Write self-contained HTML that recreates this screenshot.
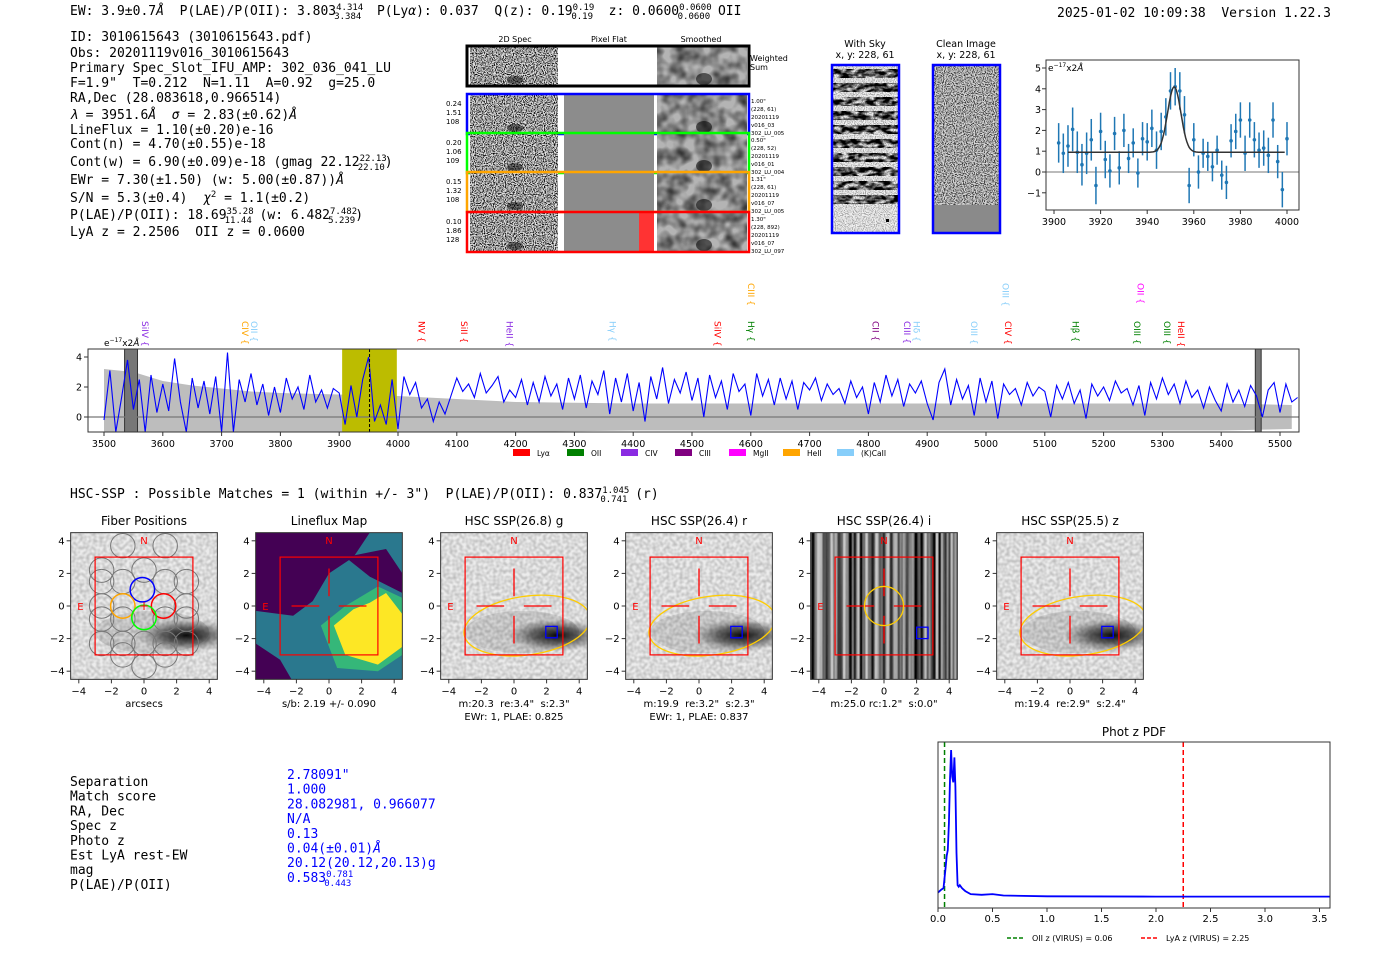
<!DOCTYPE html>
<html><head><meta charset="utf-8"><style>
html,body{margin:0;padding:0;background:#fff;width:1400px;height:953px;overflow:hidden}
svg{display:block}
.m{font-family:"DejaVu Sans Mono","Liberation Mono",monospace;font-size:13px}
.s{font-family:"DejaVu Sans","Liberation Sans",sans-serif}
</style></head><body>
<svg id="fig" width="1400" height="953" viewBox="0 0 1400 953" xmlns="http://www.w3.org/2000/svg">
<defs>
<filter id="nHi" x="0" y="0" width="1" height="1"><feTurbulence type="fractalNoise" baseFrequency="0.9" numOctaves="1" seed="3"/><feColorMatrix values="0 0 0 0 0 0 0 0 0 0 0 0 0 0 0 4 0 0 0 -1.7"/></filter>
<filter id="nSm" x="0" y="0" width="1" height="1"><feTurbulence type="fractalNoise" baseFrequency="0.08" numOctaves="2" seed="7"/><feColorMatrix values="0 0 0 0 0 0 0 0 0 0 0 0 0 0 0 1.4 0 0 0 -0.45"/></filter>
<filter id="nLo" x="0" y="0" width="1" height="1"><feTurbulence type="fractalNoise" baseFrequency="0.3" numOctaves="1" seed="5"/><feColorMatrix values="0 0 0 0 0 0 0 0 0 0 0 0 0 0 0 0.4 0 0 0 -0.12"/></filter>
<filter id="nStr" x="0" y="0" width="1" height="1"><feTurbulence type="fractalNoise" baseFrequency="0.35 0.001" numOctaves="1" seed="2"/><feColorMatrix values="0 0 0 0 0 0 0 0 0 0 0 0 0 0 0 2.4 0 0 0 -0.7"/></filter>
<filter id="nSky" x="0" y="0" width="1" height="1"><feTurbulence type="fractalNoise" baseFrequency="0.12 0.25" numOctaves="2" seed="9"/><feColorMatrix values="0 0 0 0 0 0 0 0 0 0 0 0 0 0 0 3 0 0 0 -0.9"/></filter>
<radialGradient id="blob"><stop offset="0" stop-color="#000" stop-opacity="0.95"/><stop offset="0.5" stop-color="#222" stop-opacity="0.6"/><stop offset="1" stop-color="#555" stop-opacity="0"/></radialGradient>
<clipPath id="cMain"><rect x="88" y="349" width="1211" height="83"/></clipPath>
<clipPath id="cFit"><rect x="1046" y="60" width="253" height="150"/></clipPath>
</defs>
<g id="root"></g>
</svg>
<script>
// ---- main spectrum data ----
const specWaveStart = 3500;
const specWaveStep = 10;
const specFlux = [-0.2,3.1,-1,1.3,3.8,0.5,2.5,-1,2.8,0.3,
2.2,0.4,3.9,1.0,-1,2.6,0.6,2.4,0.2,2.7,
-1,4.3,-1,2.5,1.0,2.9,0.8,2.2,0.1,2.0,
0.3,2.6,1.2,2.0,0.5,2.8,1.0,1.8,0.6,1.9,
1.6,-0.5,2.1,0.0,2.5,4.0,-0.3,0.8,-0.5,2.5,
-0.8,2.7,1.5,2.3,0.6,1.2,-0.3,1.0,0.2,1.4,
2.6,1.7,2.2,1.3,2.9,1.6,2.1,2.7,1.0,1.8,
1.3,2.5,0.8,2.3,1.0,2.7,1.4,2.2,0.5,2.6,
1.2,2.8,0.6,2.4,1.5,3.1,0.2,2.6,1.0,2.9,
0.4,2.3,-0.3,2.7,1.2,3.3,0.9,2.5,1.6,3.0,
1.1,2.6,0.0,2.8,1.3,2.4,0.5,2.9,1.7,2.2,
0.1,2.9,1.4,2.5,0.8,2.6,1.2,2.4,0.5,2.3,
1.8,2.6,1.1,2.2,1.5,1.9,0.9,2.4,1.3,2.0,
0.2,2.3,1.0,2.8,1.4,2.5,0.7,2.2,1.6,2.4,
0.9,-0.2,2.3,3.2,0.8,2.5,1.2,2.1,0.1,2.6,
1.0,2.4,-0.1,2.2,1.5,1.9,0.8,2.3,1.4,2.0,
1.7,0.0,2.1,1.2,2.3,0.9,1.8,-0.1,2.2,1.4,
2.0,1.1,2.4,1.6,1.9,0.8,2.1,0.1,2.3,1.2,
2.6,1.5,2.2,0.9,2.4,1.3,1.8,0.6,2.0,1.1,
0.4,2.2,1.0,1.8,0.7,2.1,1.4,0.0,1.8,2.3,
0.3,2.2,1.0,1.3];
const errWave = [3500,3550,3600,3650,3700,3750,3800,3900,4000,4100,4200,4400,4600,5000,5400,5520];
const errUpper = [3.2,3.0,2.4,2.1,1.9,1.7,1.6,1.5,1.4,1.2,1.0,0.9,0.9,0.9,0.9,0.8];
const mainXTicks = [3500,3600,3700,3800,3900,4000,4100,4200,4300,4400,4500,4600,4700,4800,4900,5000,5100,5200,5300,5400,5500];
const mainYTicks = [0,2,4];
const lineNames = ["SiIV","CIV","OII","NV","SiII","HeII","Hγ","SiIV","Hγ","CIII","CII","CIII","Hδ","OIII","CIV","OIII","Hβ","OIII","OIII","HeII","OII"];
const lineWaves = [3570,3740,3755,4040,4112,4190,4365,4543,4600,4600,4812,4866,4882,4980,5037,5033,5152,5257,5308,5332,5263];
const lineColors = ["#8a2be2","#ffa500","#87cefa","#ff0000","#ff0000","#8a2be2","#87cefa","#ff0000","#008000","#ffa500","#800080","#8a2be2","#87cefa","#87cefa","#ff0000","#87cefa","#008000","#008000","#008000","#ff0000","#ff00ff"];
const lineRow = [0,0,0,0,0,0,0,0,0,1,0,0,0,0,0,1,0,0,0,0,1];
// ---- fit panel data ----
const fitWave = [3902,3904,3906,3908,3910,3912,3914,3916,3918,3920,3922,3924,3926,3928,3930,3932,3934,3936,3938,3940,3942,3944,3946,3948,3950,3952,3954,3956,3958,3960,3962,3964,3966,3968,3970,3972,3974,3976,3978,3980,3982,3984,3986,3988,3990,3992,3994,3996,3998,4000];
const fitFlux = [1.4,0.9,1.25,2.05,0.95,0.35,0.9,1.55,-0.65,1.95,0.6,0.05,1.85,0.2,2.0,0.65,1.4,-0.05,1.6,1.45,2.1,1.05,1.95,2.65,3.9,4.1,3.9,2.75,-0.65,1.55,0.0,0.9,0.75,0.25,1.05,-0.15,-0.5,1.5,1.95,2.5,0.9,2.5,1.55,1.05,1.15,0.8,2.5,0.5,-0.85,1.6];
const fitErr = [0.95,0.95,1.0,1.05,1.0,1.0,1.0,1.0,0.9,0.9,0.9,0.8,0.8,0.8,0.8,0.7,0.7,0.7,0.8,0.9,0.9,0.9,0.9,0.9,0.9,0.9,0.9,0.9,0.85,0.8,0.8,0.7,0.7,0.7,0.7,0.7,0.8,0.8,0.85,0.85,0.85,0.85,0.85,0.85,0.85,0.85,0.85,0.8,0.85,0.8];
const fitModel = {cont:0.95, amp:3.15, mu:3951.6, sigma:2.83};
const fitXTicks = [3900,3920,3940,3960,3980,4000];
const fitYTicks = [-1,0,1,2,3,4,5];
// ---- phot z PDF ----
const pdfZ = [0,0.03,0.05,0.07,0.08,0.09,0.1,0.11,0.12,0.13,0.14,0.15,0.16,0.17,0.18,0.19,0.2,0.22,0.25,0.3,0.4,0.5,0.6,1.0,2.0,3.6];
const pdfP = [0.03,0.05,0.06,0.2,0.28,0.32,0.5,0.8,1.0,0.82,0.78,0.95,0.75,0.3,0.08,0.07,0.08,0.06,0.04,0.02,0.015,0.02,0.01,0.005,0.003,0.003];
const pdfXTicks = [0.0,0.5,1.0,1.5,2.0,2.5,3.0,3.5];
const pdfOIIz = 0.06, pdfLyaz = 2.25;

const NS="http://www.w3.org/2000/svg";
const root=document.getElementById('root');
function mk(tag,at,par){const e=document.createElementNS(NS,tag);for(const k in at)e.setAttribute(k,at[k]);(par||root).appendChild(e);return e;}
function txt(x,y,s,cls,extra,par){const e=mk('text',Object.assign({x:x,y:y,class:cls||'s'},extra||{}),par);e.textContent=s;return e;}
function nm(e,n,i){return e;}

// ---------- header ----------
let g=mk('g',{});
nm(g,'header-text');
let t=mk('text',{x:70,y:15,class:'m'},g);
t.innerHTML='EW: 3.9±0.7<tspan font-style="italic">Å</tspan>  P(LAE)/P(OII): 3.803<tspan font-size="9" dy="-5">4.314</tspan><tspan font-size="9" dx="-29" dy="9">3.384</tspan><tspan dy="-4">  P(Ly<tspan font-style="italic">α</tspan>): 0.037  Q(z): 0.19</tspan><tspan font-size="9" dy="-5">0.19</tspan><tspan font-size="9" dx="-23" dy="9">0.19</tspan><tspan dy="-4">  z: 0.0600</tspan><tspan font-size="9" dy="-5">0.0600</tspan><tspan font-size="9" dx="-34" dy="9">0.0600</tspan><tspan dy="-4"> OII</tspan>';
t.style.whiteSpace='pre';
t=txt(1057,17,'2025-01-02 10:09:38  Version 1.22.3','m',{},g);t.style.whiteSpace='pre';

// ---------- info text ----------
g=mk('g',{});nm(g,'detection-info');
const info=[
 [41,'ID: 3010615643 (3010615643.pdf)'],
 [57,'Obs: 20201119v016_3010615643'],
 [72,'Primary Spec_Slot_IFU_AMP: 302_036_041_LU'],
 [87,'F=1.9"  T=0.212  N=1.11  A=0.92  g=25.0'],
 [102,'RA,Dec (28.083618,0.966514)'],
 [119,'<tspan font-style="italic">λ</tspan> = 3951.6<tspan font-style="italic">Å</tspan>  <tspan font-style="italic">σ</tspan> = 2.83(±0.62)<tspan font-style="italic">Å</tspan>'],
 [134,'LineFlux = 1.10(±0.20)e-16'],
 [148,'Cont(n) = 4.70(±0.55)e-18'],
 [166,'Cont(w) = 6.90(±0.09)e-18 (gmag 22.12<tspan font-size="9" dy="-5">22.13</tspan><tspan font-size="9" dx="-29" dy="9">22.10</tspan><tspan dy="-4">)</tspan>'],
 [184,'EWr = 7.30(±1.50) (w: 5.00(±0.87))<tspan font-style="italic">Å</tspan>'],
 [202,'S/N = 5.3(±0.4)  <tspan font-style="italic">χ</tspan><tspan font-size="9" dy="-5">2</tspan><tspan dy="5"> = 1.1(±0.2)</tspan>'],
 [219,'P(LAE)/P(OII): 18.69<tspan font-size="9" dy="-5">35.28</tspan><tspan font-size="9" dx="-29" dy="9">11.44</tspan><tspan dy="-4"> (w: 6.482</tspan><tspan font-size="9" dy="-5">7.482</tspan><tspan font-size="9" dx="-29" dy="9">5.239</tspan><tspan dy="-4">)</tspan>'],
 [236,'LyA z = 2.2506  OII z = 0.0600']];
info.forEach(r=>{const e=mk('text',{x:70,y:r[0],class:'m'},g);e.style.whiteSpace='pre';e.innerHTML=r[1];});

// ---------- 2D spectra ----------
g=mk('g',{});nm(g,'spectra-cutouts');
txt(515,42,'2D Spec','s',{'font-size':8,'text-anchor':'middle'},g);
txt(609,42,'Pixel Flat','s',{'font-size':8,'text-anchor':'middle'},g);
txt(701,42,'Smoothed','s',{'font-size':8,'text-anchor':'middle'},g);
const rows=[[47,38,'#000',null,'Weighted','Sum'],[95,38,'#0000ff',['0.24','1.51','108'],['1.00"','(228, 61)','20201119','v016_03','302_LU_005']],[134,38,'#00ff00',['0.20','1.06','109'],['0.50"','(228, 52)','20201119','v016_01','302_LU_004']],[173,38,'#ffa500',['0.15','1.32','108'],['1.31"','(228, 61)','20201119','v016_07','302_LU_005']],[213,38,'#ff0000',['0.10','1.86','128'],['1.30"','(228, 892)','20201119','v016_07','302_LU_097']]];
rows.forEach((r,i)=>{
 const y=r[0],h=r[1];
 mk('rect',{x:470,y:y,width:88,height:h,fill:'#e0e0e0'},g);
 mk('rect',{x:470,y:y,width:88,height:h,filter:'url(#nHi)'},g);
 mk('ellipse',{cx:515,cy:y+h-5,rx:8,ry:4,fill:'#000',opacity:0.5},g);
 if(i>0){mk('rect',{x:564,y:y,width:90,height:h,fill:'#8c8c8c'},g);}
 if(i==4){mk('rect',{x:639,y:y,width:15,height:h,fill:'#ff3333'},g);}
 mk('rect',{x:657,y:y,width:90,height:h,fill:'#b4b4b4'},g);
 mk('rect',{x:657,y:y,width:90,height:h,filter:'url(#nSm)'},g);
 mk('ellipse',{cx:704,cy:y+h-6,rx:8,ry:6,fill:'#000',opacity:0.55},g);
 const b=mk('rect',{x:467,y:y-1,width:282,height:h+2,fill:'none',stroke:r[2],'stroke-width':i==0?3:2.5},g);
 nm(b,'cutout-row-'+i);
 if(i==0){txt(750,61,'Weighted','s',{'font-size':8},g);txt(750,70,'Sum','s',{'font-size':8},g);}
 else{r[3].forEach((s,k)=>txt(446,y+11+k*9,s,'s',{'font-size':7},g));r[4].forEach((s,k)=>txt(751,y+8+k*8,s,'s',{'font-size':5.5},g));}
});

// ---------- With Sky / Clean ----------
g=mk('g',{});nm(g,'sky-images');
txt(865,47,'With Sky','s',{'font-size':9.5,'text-anchor':'middle'},g);
txt(865,58,'x, y: 228, 61','s',{'font-size':9.5,'text-anchor':'middle'},g);
txt(966,47,'Clean Image','s',{'font-size':9.5,'text-anchor':'middle'},g);
txt(966,58,'x, y: 228, 61','s',{'font-size':9.5,'text-anchor':'middle'},g);
mk('rect',{x:832,y:65,width:67,height:168,fill:'#f2f2f2'},g);
const skyClip=mk('clipPath',{id:'cSky'},g);
for(let k=0;k<10;k++){mk('rect',{x:832,y:69+k*14,width:67,height:9},skyClip);}
mk('rect',{x:832,y:65,width:67,height:140,filter:'url(#nSky)','clip-path':'url(#cSky)'},g);
mk('rect',{x:832,y:65,width:67,height:168,filter:'url(#nHi)',opacity:0.35},g);
mk('rect',{x:886,y:219,width:3,height:3,fill:'#000'},g);
mk('rect',{x:832,y:65,width:67,height:168,fill:'none',stroke:'#0000ff','stroke-width':2.5},g);
mk('rect',{x:933,y:65,width:67,height:168,fill:'#d8d8d8'},g);
mk('rect',{x:933,y:65,width:67,height:140,filter:'url(#nHi)',opacity:0.8},g);
mk('rect',{x:933,y:205,width:67,height:28,fill:'#8a8a8a'},g);
mk('rect',{x:933,y:65,width:67,height:168,fill:'none',stroke:'#0000ff','stroke-width':2.5},g);

// ---------- Fit panel ----------
g=mk('g',{});nm(g,'line-fit-plot');
const fx=w=>1054+(w-3900)*2.33, fy=v=>172-v*20.8;
mk('line',{x1:1046,x2:1299,y1:fy(0),y2:fy(0),stroke:'#777','stroke-width':1},g);
const fg=mk('g',{'clip-path':'url(#cFit)'},g);
fitWave.forEach((w,i)=>{
 let e=mk('line',{x1:fx(w),x2:fx(w),y1:fy(fitFlux[i]-fitErr[i]),y2:fy(fitFlux[i]+fitErr[i]),stroke:'#1f77b4','stroke-width':1.5},fg);
 
 
 e=mk('circle',{cx:fx(w),cy:fy(fitFlux[i]),r:1.8,fill:'#1f77b4'},fg);
 
 
});
let d='';for(let w=3906;w<=3999;w+=0.5){const v=fitModel.cont+fitModel.amp*Math.exp(-0.5*Math.pow((w-fitModel.mu)/fitModel.sigma,2));d+=(d?'L':'M')+fx(w).toFixed(1)+','+fy(v).toFixed(1);}
let e=mk('path',{d:d,fill:'none',stroke:'#333','stroke-width':1.5},fg);


mk('rect',{x:1046,y:60,width:253,height:150,fill:'none',stroke:'#333','stroke-width':1},g);
fitXTicks.forEach(v=>{mk('line',{x1:fx(v),x2:fx(v),y1:210,y2:214,stroke:'#333'},g);txt(fx(v),225,v,'s',{'font-size':9.5,'text-anchor':'middle'},g);});
fitYTicks.forEach(v=>{mk('line',{x1:1042,x2:1046,y1:fy(v),y2:fy(v),stroke:'#333'},g);txt(1041,fy(v)+3.5,v<0?'−'+(-v):v,'s',{'font-size':9.5,'text-anchor':'end'},g);});
t=mk('text',{x:1048,y:71,class:'s','font-size':9},g);t.innerHTML='e<tspan font-size="6" dy="-4">−17</tspan><tspan dy="4">x2</tspan><tspan font-style="italic">Å</tspan>';

// ---------- Main spectrum ----------
g=mk('g',{});nm(g,'full-spectrum-plot');
const sx=w=>104+(w-3500)*0.588, sy=v=>417-v*15;
const mg=mk('g',{'clip-path':'url(#cMain)'},g);
let up='',lo='';errWave.forEach((w,i)=>{up+=(up?'L':'M')+sx(w)+','+sy(errUpper[i]);});
for(let i=errWave.length-1;i>=0;i--){lo+='L'+sx(errWave[i])+','+sy(-errUpper[i]);}
e=mk('path',{d:up+lo+'Z',fill:'#bdbdbd'},mg);


e=mk('rect',{x:sx(3905),y:349,width:sx(3998)-sx(3905),height:83,fill:'#bcbc00'},mg);


[[3535,3557],[5458,5468]].forEach(b=>{const r=mk('rect',{x:sx(b[0]),y:349,width:sx(b[1])-sx(b[0]),height:83,fill:'#777',stroke:'#333'},mg);});
mk('line',{x1:88,x2:1299,y1:sy(0),y2:sy(0),stroke:'#777','stroke-width':1.2},mg);
d='';specFlux.forEach((v,i)=>{d+=(i?'L':'M')+sx(specWaveStart+i*specWaveStep).toFixed(1)+','+sy(v).toFixed(1);});
e=mk('path',{d:d,fill:'none',stroke:'#0000ff','stroke-width':1.1},mg);


mk('line',{x1:sx(3951.6),x2:sx(3951.6),y1:349,y2:432,stroke:'#000','stroke-dasharray':'3,2','stroke-width':1},mg);
mk('rect',{x:88,y:349,width:1211,height:83,fill:'none',stroke:'#333','stroke-width':1},g);
mainXTicks.forEach(v=>{mk('line',{x1:sx(v),x2:sx(v),y1:432,y2:436,stroke:'#333'},g);txt(sx(v),447,v,'s',{'font-size':9.5,'text-anchor':'middle'},g);});
mainYTicks.forEach(v=>{mk('line',{x1:84,x2:88,y1:sy(v),y2:sy(v),stroke:'#333'},g);txt(82,sy(v)+3.5,v,'s',{'font-size':9.5,'text-anchor':'end'},g);});
t=mk('text',{x:104,y:346,class:'s','font-size':9},g);t.innerHTML='e<tspan font-size="6" dy="-4">−17</tspan><tspan dy="4">x2</tspan><tspan font-style="italic">Å</tspan>';
lineNames.forEach((n,i)=>{
 const x=sx(lineWaves[i]), y0=lineRow[i]?283:321;
 const l=mk('text',{x:0,y:0,class:'s','font-size':9,fill:lineColors[i],transform:'translate('+(x-3)+','+y0+') rotate(90)'},g);
 l.textContent=n+' {';
 
 
});
const legN=['Lyα','OII','CIV','CIII','MgII','HeII','(K)CaII'];
const legC=['#ff0000','#008000','#8a2be2','#800080','#ff00ff','#ffa500','#87cefa'];
legN.forEach((n,i)=>{const lx=513+i*54;const r=mk('rect',{x:lx,y:449,width:17,height:7,fill:legC[i]},g);txt(lx+24,456,n,'s',{'font-size':7.5},g);});

// ---------- HSC header ----------
t=mk('text',{x:70,y:498,class:'m'});t.style.whiteSpace='pre';
nm(t,'hsc-header');
t.innerHTML='HSC-SSP : Possible Matches = 1 (within +/- 3")  P(LAE)/P(OII): 0.837<tspan font-size="9" dy="-5">1.045</tspan><tspan font-size="9" dx="-29" dy="9">0.741</tspan><tspan dy="-4"> (r)</tspan>';

// ---------- image panels ----------
const panels=[
 {c:144,title:'Fiber Positions',cap:['arcsecs']},
 {c:329,title:'Lineflux Map',cap:['s/b: 2.19 +/- 0.090']},
 {c:514,title:'HSC SSP(26.8) g',cap:['m:20.3  re:3.4"  s:2.3"','EWr: 1, PLAE: 0.825']},
 {c:699,title:'HSC SSP(26.4) r',cap:['m:19.9  re:3.2"  s:2.3"','EWr: 1, PLAE: 0.837']},
 {c:884,title:'HSC SSP(26.4) i',cap:['m:25.0 rc:1.2"  s:0.0"']},
 {c:1070,title:'HSC SSP(25.5) z',cap:['m:19.4  re:2.9"  s:2.4"']}];
const S=16.3, Y0=606;
panels.forEach((p,pi)=>{
 const pg=mk('g',{});nm(pg,'panel-'+p.title.toLowerCase().replace(/[^a-z0-9]+/g,'-'));
 const X=u=>p.c+u*S, Y=v=>Y0-v*S;
 const L=X(-4.5),T=Y(4.5),W=9*S;
 const cid='cp'+pi;const cp=mk('clipPath',{id:cid},pg);mk('rect',{x:L,y:T,width:W,height:W},cp);
 const ig=mk('g',{'clip-path':'url(#'+cid+')'},pg);
 if(pi==1){
  mk('rect',{x:L,y:T,width:W,height:W,fill:'#2a788e'},ig);
  mk('polygon',{points:[X(-4.5),Y(4.5),X(2.5),Y(4.5),X(1.5),Y(3),X(0),Y(2),X(-1),Y(0.3),X(-2.2),Y(-0.6),X(-4.5),Y(-0.3)].join(' '),fill:'#440154'},ig);
  mk('polygon',{points:[X(1),Y(3),X(3.5),Y(3.5),X(4.5),Y(2),X(4.5),Y(0.8),X(2.5),Y(1.8)].join(' '),fill:'#440154'},ig);
  mk('polygon',{points:[X(-4.5),Y(-2.3),X(-3),Y(-3.3),X(-2.3),Y(-4.5),X(-4.5),Y(-4.5)].join(' '),fill:'#440154'},ig);
  mk('polygon',{points:[X(-0.5),Y(-1.2),X(1),Y(0),X(3),Y(1.2),X(4.5),Y(0.5),X(4.5),Y(-3),X(3),Y(-4),X(0.5),Y(-3.8)].join(' '),fill:'#35b779'},ig);
  mk('polygon',{points:[X(0.3),Y(-1.2),X(1.5),Y(-0.2),X(2.5),Y(0.2),X(3.5),Y(0.8),X(4.5),Y(-0.5),X(4.5),Y(-2.5),X(3),Y(-3.6),X(1),Y(-3)].join(' '),fill:'#fde725'},ig);
 } else {
  mk('rect',{x:L,y:T,width:W,height:W,fill:pi==4?'#c8c8c8':'#ececec'},ig);
  mk('rect',{x:L,y:T,width:W,height:W,filter:pi==4?'url(#nStr)':'url(#nLo)'},ig);
  if(pi!=4){mk('ellipse',{cx:X(2.6),cy:Y(-1.8),rx:3.0*S,ry:1.0*S,fill:'url(#blob)'},ig);mk('ellipse',{cx:X(0.5),cy:Y(-1.6),rx:3.5*S,ry:1.3*S,fill:'#000',opacity:0.1},ig);}
 }
 if(pi==0){
  const fib=[[-1.3,3.7],[1.3,3.7],[-2.6,1.5],[0,2.2],[2.6,1.5],[-1.3,1.5],[1.3,1.5],[-2.6,0],[2.6,0],[-1.3,-0.8],[1.3,-0.8],[-2.6,-0.8],[2.6,-0.8],[-2.6,-2.3],[0,-2.3],[2.6,-2.3],[-1.3,-3.0],[1.3,-3.0],[0,-3.7],[-2.6,2.2],[-1.3,-2.3],[1.3,-2.3]];
  fib.forEach(f=>{const c=mk('circle',{cx:X(f[0]),cy:Y(f[1]),r:0.75*S,fill:'none',stroke:'#777','stroke-width':1},pg);});
  [[-0.1,1.0,'#0000ff'],[-1.3,0,'#ffa500'],[1.2,0,'#ff0000'],[0,-0.7,'#00ff00']].forEach(f=>{const c=mk('circle',{cx:X(f[0]),cy:Y(f[1]),r:0.75*S,fill:'none',stroke:f[2],'stroke-width':1.5},pg);});
  txt(X(0),Y(0)+4,'+','s',{'font-size':12,fill:'#ff0000','text-anchor':'middle'},pg);
 } else {
  [[-2.3,-0.6],[0.6,2.3]].forEach(a=>{mk('line',{x1:X(a[0]),x2:X(a[1]),y1:Y(0),y2:Y(0),stroke:'#ff0000','stroke-width':1.3},pg);mk('line',{x1:X(0),x2:X(0),y1:Y(-a[0]),y2:Y(-a[1]),stroke:'#ff0000','stroke-width':1.3},pg);});
 }
 if(pi>=2){
  if(pi==4){mk('circle',{cx:X(0),cy:Y(0),r:1.2*S,fill:'none',stroke:'#ffcc00','stroke-width':1.3},pg);mk('rect',{x:X(2),y:Y(-1.3),width:0.7*S,height:0.7*S,fill:'none',stroke:'#0000ff','stroke-width':1.3},pg);}
  else{const el=mk('ellipse',{cx:X(0.8),cy:Y(-1.2),rx:3.9*S,ry:1.8*S,fill:'none',stroke:'#ffcc00','stroke-width':1.3,transform:'rotate(-8 '+X(0.8)+' '+Y(-1.2)+')'},ig);
   mk('rect',{x:X(1.95),y:Y(-1.25),width:0.7*S,height:0.7*S,fill:'none',stroke:'#0000ff','stroke-width':1.3},pg);}
 }
 mk('rect',{x:X(-3),y:Y(3),width:6*S,height:6*S,fill:'none',stroke:'#ff0000','stroke-width':1.2},pg);
 txt(X(0),Y(3.8),'N','s',{'font-size':10,fill:'#ff0000','text-anchor':'middle'},pg);
 txt(X(-3.9),Y(0)+4,'E','s',{'font-size':10,fill:'#ff0000','text-anchor':'middle'},pg);
 mk('rect',{x:L,y:T,width:W,height:W,fill:'none',stroke:'#333','stroke-width':1},pg);
 [-4,-2,0,2,4].forEach(v=>{
  mk('line',{x1:X(v),x2:X(v),y1:T+W,y2:T+W+4,stroke:'#333'},pg);
  txt(X(v),T+W+15,v<0?'−'+(-v):v,'s',{'font-size':10,'text-anchor':'middle'},pg);
  mk('line',{x1:L-4,x2:L,y1:Y(v),y2:Y(v),stroke:'#333'},pg);
  txt(L-6,Y(v)+3.5,v<0?'−'+(-v):v,'s',{'font-size':10,'text-anchor':'end'},pg);
 });
 txt(p.c,525,p.title,'s',{'font-size':12,'text-anchor':'middle'},pg);
 p.cap.forEach((s,k)=>{const c=txt(p.c,707+k*13,s,'s',{'font-size':10,'text-anchor':'middle'},pg);c.style.whiteSpace='pre';});
});

// ---------- match table ----------
g=mk('g',{});nm(g,'match-table');
const tl=['Separation','Match score','RA, Dec','Spec z','Photo z','Est LyA rest-EW','mag','P(LAE)/P(OII)'];
const tv=['2.78091"','1.000','28.082981, 0.966077','N/A','0.13','0.04(±0.01)<tspan font-style="italic">Å</tspan>','20.12(20.12,20.13)g','0.583<tspan font-size="9" dy="-5">0.781</tspan><tspan font-size="9" dx="-29" dy="9">0.443</tspan>'];
tl.forEach((s,i)=>{txt(70,786+i*14.7,s,'m',{},g);});
tv.forEach((s,i)=>{const e=mk('text',{x:287,y:779+i*14.7,class:'m',fill:'#0000ff'},g);e.innerHTML=s;});

// ---------- Phot z PDF ----------
g=mk('g',{});nm(g,'phot-z-pdf-plot');
const px=z=>938+z*109, py=p=>897-p*147;
txt(1134,736,'Phot z PDF','s',{'font-size':12,'text-anchor':'middle'},g);
e=mk('line',{x1:px(pdfOIIz),x2:px(pdfOIIz),y1:742,y2:908,stroke:'#008000','stroke-width':1.5,'stroke-dasharray':'5,3'},g);


e=mk('line',{x1:px(pdfLyaz),x2:px(pdfLyaz),y1:742,y2:908,stroke:'#ff0000','stroke-width':1.5,'stroke-dasharray':'5,3'},g);


d='';pdfZ.forEach((z,i)=>{d+=(i?'L':'M')+Math.min(px(z),1330).toFixed(1)+','+py(pdfP[i]).toFixed(1);});
e=mk('path',{d:d,fill:'none',stroke:'#0000ff','stroke-width':1.8},g);


mk('rect',{x:938,y:742,width:392,height:166,fill:'none',stroke:'#333','stroke-width':1},g);
pdfXTicks.forEach(v=>{mk('line',{x1:px(v),x2:px(v),y1:908,y2:912,stroke:'#333'},g);txt(px(v),922,v.toFixed(1),'s',{'font-size':10,'text-anchor':'middle'},g);});
mk('line',{x1:1007,x2:1025,y1:938,y2:938,stroke:'#008000','stroke-width':1.5,'stroke-dasharray':'4,2'},g);
txt(1032,941,'OII z (VIRUS) = 0.06','s',{'font-size':8},g);
mk('line',{x1:1141,x2:1159,y1:938,y2:938,stroke:'#ff0000','stroke-width':1.5,'stroke-dasharray':'4,2'},g);
txt(1166,941,'LyA z (VIRUS) = 2.25','s',{'font-size':8},g);
</script>
</body></html>
